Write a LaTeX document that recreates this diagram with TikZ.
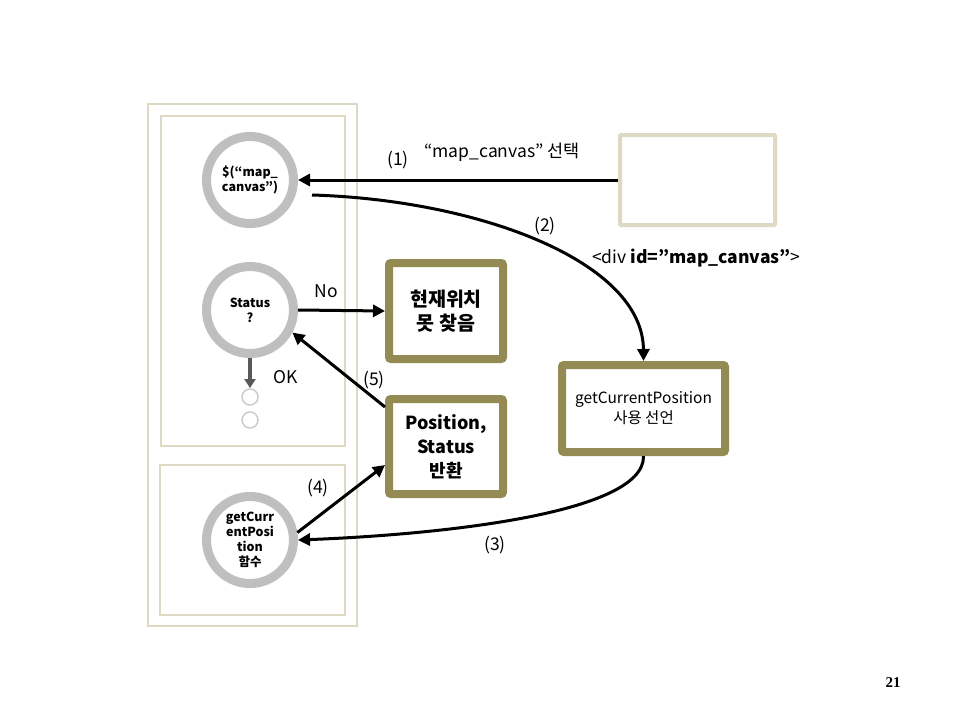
\documentclass[tikz,border=0pt]{standalone}
\usepackage{fontspec}
\setmainfont{Noto Sans CJK KR}
\newfontfamily\numfont{Liberation Serif}
\usetikzlibrary{arrows.meta}
\definecolor{tanl}{HTML}{DDD9C3}
\definecolor{olive}{HTML}{948A54}
\definecolor{ringg}{HTML}{BFBFBF}
\definecolor{dgray}{HTML}{595959}
\begin{document}
\begin{tikzpicture}[x=1pt,y=-1pt,
  ring/.style={circle,draw=ringg,line width=9pt,minimum size=87pt,inner sep=0pt,align=center,font=\fontsize{12.5}{15}\selectfont\bfseries},
  obox/.style={draw=olive,line width=8pt,rounded corners=2pt,align=center,inner sep=0pt},
  tanbox/.style={draw=tanl,line width=2pt},
  arr/.style={line width=3pt,-{Triangle[length=12pt,width=12pt]}},
  lbl/.style={font=\fontsize{17.5}{20}\selectfont},
  small/.style={circle,draw=ringg!80,line width=1.5pt,minimum size=16pt,inner sep=0pt}]
\useasboundingbox[fill=white] (0,0) rectangle (960,720);
% frames
\draw[tanbox] (148,104) rectangle (357,626);
\draw[tanbox] (161,116) rectangle (345,446);
\draw[tanbox] (160,465) rectangle (345,615);
% circles
\node[ring] (c1) at (250,180) {\$(“map\_\\canvas”)};
\node[ring] (c2) at (250,310) {Status\\?};
\node[ring] (c3) at (250,540) {getCurr\\entPosi\\tion\\함수};
\node[small] (s1) at (250,397) {};
\node[small] (s2) at (250,420) {};
\coordinate (okend) at (250,388);
\draw[line width=4pt,dgray,-{Triangle[length=9pt,width=11pt]}] (c2.south) -- (okend);
\node[lbl,anchor=west] (ok) at (270,377) {OK};
% boxes
\node[obox,minimum width=114pt,minimum height=96pt,font=\fontsize{19.5}{24}\selectfont\bfseries] (nf) at (446,311) {현재위치\\못 찾음};
\node[obox,minimum width=114pt,minimum height=95pt,font=\fontsize{18}{24}\selectfont\bfseries] (pos) at (446,446.5) {Position,\\Status\\반환};
\node[obox,minimum width=163pt,minimum height=87pt,font=\fontsize{15.5}{20}\selectfont] (decl) at (643.5,408.5) {getCurrentPosition\\사용 선언};
\node[draw=tanl,line width=4pt,rounded corners=1pt,minimum width=155pt,minimum height=90pt] (blank) at (697.5,180) {};
% arrows
\draw[arr] (blank.west) -- (c1.east);
\node[lbl] (l1) at (398,160) {(1)};
\node[lbl] (l1b) at (502,152) {“map\_canvas” 선택};
\draw[arr] ([shift={(14pt,-15pt)}]c1.east) .. controls (480,200) and (643,262) .. (decl.north);
\node[lbl] (l2) at (545,226) {(2)};
\node[lbl] (l2b) at (696,258) {<div \textbf{id=\symbol{34}map\_canvas\symbol{34}}>};
\draw[arr] (c2.east) -- (nf.west);
\node[lbl] (no) at (326,291) {No};
\draw[arr] ([yshift=-12pt]pos.north west) -- (c2.-28);
\node[lbl] (l5) at (374,380) {(5)};
\draw[arr] (c3.9) -- ([yshift=33pt]pos.south west);
\node[lbl] (l4) at (318,488) {(4)};
\draw[arr] (decl.south) .. controls (645,515) and (430,535) .. (c3.east);
\node[lbl] (l3) at (495,545) {(3)};
\node[font=\numfont\fontsize{15}{17}\selectfont\bfseries] (pg) at (893,683) {21};
\end{tikzpicture}
\end{document}
